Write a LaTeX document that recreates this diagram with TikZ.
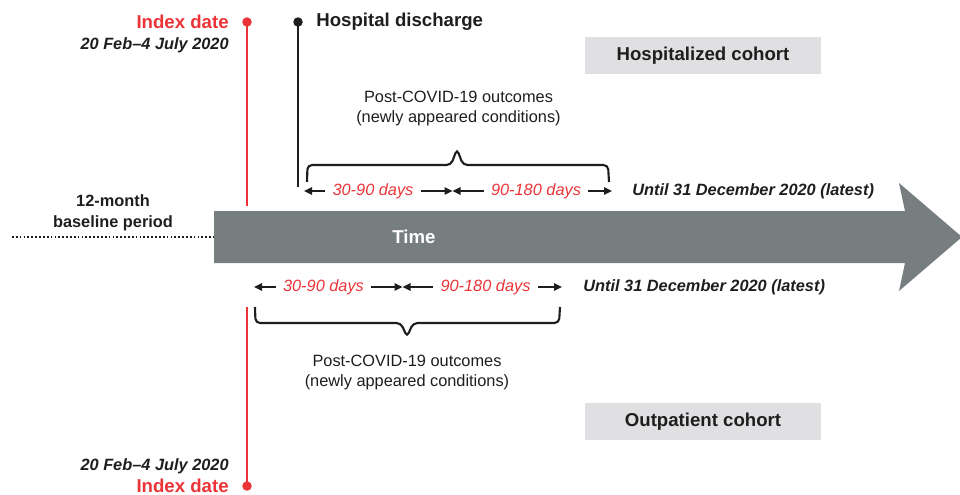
\documentclass[tikz,border=0pt]{standalone}
\usepackage{fontspec}
\setmainfont{Liberation Sans}
\usetikzlibrary{positioning,arrows.meta}
\definecolor{IndexRed}{RGB}{234,52,56}
\definecolor{TimeGray}{RGB}{119,126,128}
\definecolor{CohortBand}{RGB}{224,224,226}
\definecolor{InkBlack}{RGB}{30,30,30}

\begin{document}
\begin{tikzpicture}[x=0.2mm, y=-0.2mm,
  every node/.style={inner sep=0pt, text=InkBlack},
  small/.style={font=\fontsize{9.3}{11.9}\selectfont},
  smallbold/.style={font=\fontsize{9.3}{11.9}\selectfont\bfseries},
  dateit/.style={font=\fontsize{9.3}{11.9}\selectfont\bfseries\itshape},
  big/.style={font=\fontsize{10.6}{13}\selectfont\bfseries},
  days/.style={font=\fontsize{9.3}{11.9}\selectfont\itshape, text=IndexRed, inner xsep=4pt},
  span/.style={-{Triangle[length=1.6mm,width=1.5mm]}, line width=0.85pt, InkBlack},
  brace/.style={line width=1.2pt, InkBlack, rounded corners=0.9mm},
  cohort/.style={big, fill=CohortBand, minimum width=4.72cm, minimum height=0.74cm},
  reddot/.style={circle, fill=IndexRed, minimum size=1.9mm},
  blackdot/.style={circle, fill=InkBlack, minimum size=1.9mm}]
  \useasboundingbox (0,0) rectangle (960,494);

  % time axis
  \fill[TimeGray] (214,211) -- (905,211) -- (899,183) -- (962,237) -- (899,291) -- (905,263) -- (214,263) -- cycle;
  \node[big, text=white] (time) at (414,237) {Time};
  \coordinate (tail) at (214,237);
  \coordinate (base) at (12,237);
  \draw[line width=1pt, dash pattern=on 1pt off 1.2pt, InkBlack] (base) -- (tail);
  \node[smallbold, align=center] (baseline) at (113,213) {12-month\\baseline period};

  % index date, hospitalized
  \node[reddot] (idxtop) at (247,22) {};
  \coordinate (idxtopend) at (247,206);
  \draw[line width=1.4pt, IndexRed] (idxtop.center) -- (idxtopend);
  \node[big, text=IndexRed, anchor=east] (idxlbltop) at (229,22) {Index date};
  \node[dateit, anchor=east] (idxdatetop) at (229,45) {20 Feb–4 July 2020};

  % hospital discharge
  \node[blackdot] (disch) at (298,22) {};
  \coordinate (dischend) at (298,187);
  \draw[line width=1.4pt, InkBlack] (disch.center) -- (dischend);
  \node[big, anchor=west] (dischlbl) at (316,22) {Hospital discharge};

  \node[cohort] (hosp) at (703,55.5) {Hospitalized cohort};
  \node[small, align=center] (outtop) at (458.5,108.5) {Post-COVID-19 outcomes\\(newly appeared conditions)};
  \draw[brace] (307,182) -- (307.5,165) -- (451,165) -- (457,149) -- (463,165) -- (608,165) -- (609,182);

  % hospitalized windows
  \coordinate (ht0) at (304,191);
  \coordinate (ht1) at (452.5,191);
  \coordinate (ht2) at (612,191);
  \node[days] (h30) at (373,191) {30-90 days};
  \node[days] (h90) at (536,191) {90-180 days};
  \draw[span] (h30.west) -- (ht0);
  \draw[span] (h30.east) -- (ht1);
  \draw[span] (h90.west) -- (ht1);
  \draw[span] (h90.east) -- (ht2);
  \node[dateit, anchor=west] (hend) at (632,191) {Until 31 December 2020 (latest)};

  % outpatient windows
  \coordinate (ot0) at (254,287);
  \coordinate (ot1) at (402.5,287);
  \coordinate (ot2) at (562,287);
  \node[days] (o30) at (323.5,287) {30-90 days};
  \node[days] (o90) at (485.5,287) {90-180 days};
  \draw[span] (o30.west) -- (ot0);
  \draw[span] (o30.east) -- (ot1);
  \draw[span] (o90.west) -- (ot1);
  \draw[span] (o90.east) -- (ot2);
  \node[dateit, anchor=west] (oend) at (583,287) {Until 31 December 2020 (latest)};

  \draw[brace] (255,307) -- (255.5,323) -- (401,323) -- (407,337) -- (413,323) -- (559,323) -- (560,307);
  \node[small, align=center] (outbot) at (407,372.5) {Post-COVID-19 outcomes\\(newly appeared conditions)};
  \node[cohort] (outp) at (703,421.5) {Outpatient cohort};

  % index date, outpatient
  \node[reddot] (idxbot) at (247,486) {};
  \coordinate (idxbotend) at (247,307);
  \draw[line width=1.4pt, IndexRed] (idxbot.center) -- (idxbotend);
  \node[dateit, anchor=east] (idxdatebot) at (229,466) {20 Feb–4 July 2020};
  \node[big, text=IndexRed, anchor=east] (idxlblbot) at (229,486) {Index date};
\end{tikzpicture}
\end{document}
